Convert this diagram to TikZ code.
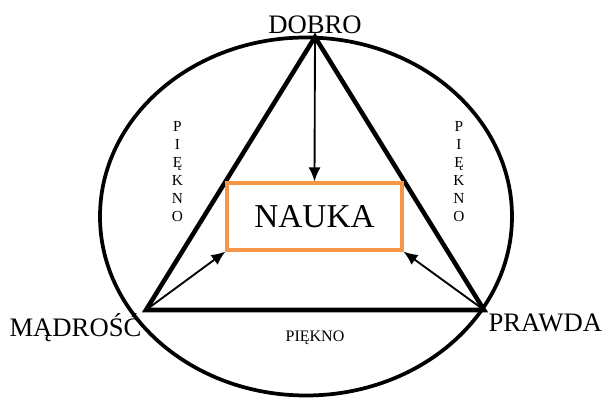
\documentclass[tikz,border=0pt]{standalone}
\usepackage{fontspec}
\setmainfont{Liberation Serif}
\usepackage{xcolor}
\usepackage{tikz}
\usetikzlibrary{positioning,arrows.meta}
\definecolor{ink}{HTML}{000000}
\definecolor{accent}{HTML}{F79646}

\begin{document}
\begin{tikzpicture}[x=0.75pt,y=-0.75pt,
    corner/.style={font=\fontsize{20}{23}\selectfont, inner sep=1pt, text=ink},
    edge/.style={draw=ink, line width=3.4pt, line join=miter},
    feed/.style={draw=ink, line width=1.4pt, -{Latex[length=10.5pt,width=9pt]}},
    vword/.style={font=\fontsize{11.5}{13.5}\selectfont, align=center, inner sep=0pt, text=ink}]
  \useasboundingbox (0,0) rectangle (604,398);
  % outer oval
  \draw[ink, line width=2.8pt] (306,216.5) ellipse [x radius=206, y radius=179];
  % triangle
  \coordinate (top) at (315,37);
  \coordinate (left) at (146,310);
  \coordinate (right) at (484,310);
  \draw[edge] (top) -- (left) -- (right) -- cycle;
  % labels at the corners
  \node[corner, above=1pt of top] (dobro) {DOBRO};
  \node[corner, anchor=north east] (madrosc) at (143,312) {MĄDROŚĆ};
  \node[corner, anchor=north west] (prawda) at (487,312) {PRAWDA};
  \node[font=\fontsize{12}{14}\selectfont, text=ink] (piekno) at (315,338) {PIĘKNO};
  \node[vword] (pieknoL) at (177.5,172) {P\\I\\Ę\\K\\N\\O};
  \node[vword] (pieknoR) at (459,172) {P\\I\\Ę\\K\\N\\O};
  % box in the middle
  \node[draw=accent, line width=2.6pt, fill=white, minimum width=131pt, minimum height=50pt,
        font=\fontsize{25}{30}\selectfont, text=ink] (nauka) at (314.5,216.5) {NAUKA};
  \draw[feed] (top) -- (nauka.north);
  \draw[feed] (left) -- (nauka.south west);
  \draw[feed] (right) -- (nauka.south east);
\end{tikzpicture}
\end{document}
